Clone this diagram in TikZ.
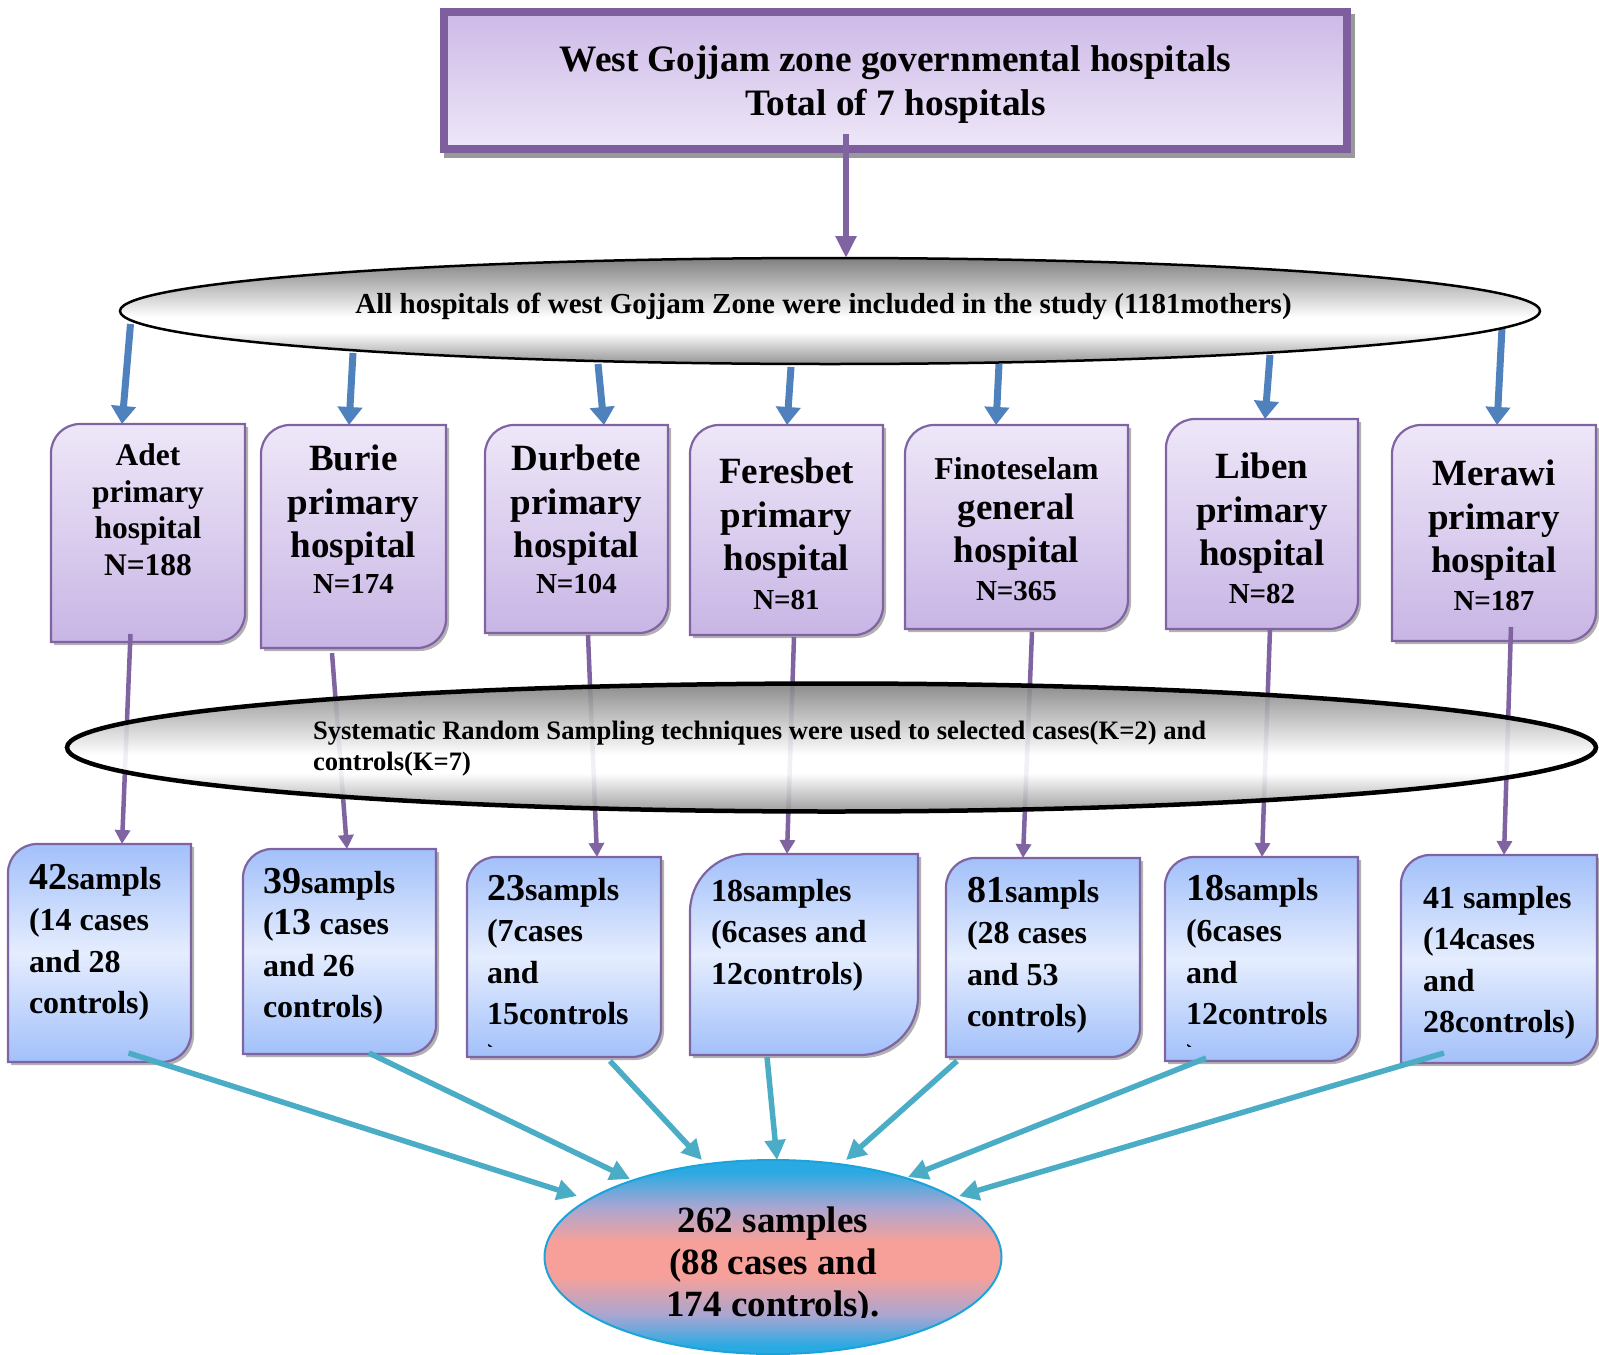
\documentclass[tikz,border=0pt]{standalone}
\usepackage{fontspec}
\setmainfont{Liberation Serif}
\usetikzlibrary{arrows.meta,shapes.geometric}
\pgfdeclarelayer{background}
\pgfsetlayers{background,main}
\definecolor{pborder}{HTML}{8064A2}
\definecolor{tborder}{HTML}{7E5F9E}
\definecolor{tTop}{HTML}{CDB9E7}
\definecolor{tBot}{HTML}{EEE7F8}
\definecolor{hTop}{HTML}{EEE7F8}
\definecolor{hBot}{HTML}{C8B5E5}
\definecolor{sEdge}{HTML}{A2C0FA}
\definecolor{sMid}{HTML}{E5EDFE}
\definecolor{arrBlue}{HTML}{4F81BD}
\definecolor{arrTeal}{HTML}{4BACC6}
\definecolor{fBlue}{HTML}{29AAE2}
\definecolor{fLav}{HTML}{A8A6D2}
\definecolor{fPink}{HTML}{F7A09A}
\definecolor{fEdge}{HTML}{1BA3DA}
\pgfdeclareverticalshading{ellsh}{100bp}{color(0bp)=(black!42); color(25bp)=(black!42); color(40bp)=(white); color(47bp)=(white); color(75bp)=(black!50); color(100bp)=(black!50)}
\pgfdeclareverticalshading{finalsh}{100bp}{color(0bp)=(fBlue); color(27bp)=(fBlue); color(35bp)=(fLav); color(45bp)=(fPink); color(54bp)=(fPink); color(63bp)=(fLav); color(72bp)=(fBlue); color(100bp)=(fBlue)}
\newcommand\cornerbox[6]{%
  \path[#6] ({#1},{#2+#5}) .. controls ({#1},{#2+0.448*#5}) and ({#1+0.448*#5},{#2}) .. ({#1+#5},{#2}) -- ({#3},{#2}) -- ({#3},{#4-#5}) .. controls ({#3},{#4-0.448*#5}) and ({#3-0.448*#5},{#4}) .. ({#3-#5},{#4}) -- ({#1},{#4}) -- cycle;}
\newcommand\shapebox[7]{%
  \cornerbox{#2}{#3}{#4}{#5}{#6}{hshadow}%
  \cornerbox{#2}{#3}{#4}{#5}{#6}{#7}%
  \node[holder, minimum width={#4-#2}, minimum height={#5-#3}] (#1) at ({(#2+#4)/2},{(#3+#5)/2}) {};}
\newcommand\bignum[1]{{\fontsize{38}{41.5}\selectfont #1}}
\newcommand\nline[1]{{\fontsize{29}{29}\selectfont #1}}
\begin{document}
\begin{tikzpicture}[x=1pt,y=-1pt,
  every node/.style={inner sep=0pt, outer sep=0pt},
  holder/.style={rectangle, inner sep=0pt},
  hshadow/.style={fill=black!30, shift={(3,3)}},
  hfill/.style={draw=pborder, line width=2.2pt, top color=hTop, bottom color=hBot},
  sfill/.style={draw=pborder, line width=2.2pt, top color=sEdge, bottom color=sEdge, middle color=sMid},
  htext/.style={align=center, anchor=north, font=\fontsize{37}{43.5}\selectfont\bfseries},
  stext/.style={align=left, anchor=north west, font=\fontsize{32}{41.5}\selectfont\bfseries},
  bluearr/.style={draw=arrBlue, line width=7pt, -{Triangle[length=18pt,width=24pt]}},
  purarr/.style={draw=pborder, line width=4.5pt, -{Triangle[length=14pt,width=15pt]}},
  tealarr/.style={draw=arrTeal, line width=5.5pt, -{Triangle[length=20pt,width=20pt]}},
  titlearr/.style={draw=pborder, line width=6pt, -{Triangle[length=22pt,width=20pt]}},
  ellbox/.style={ellipse, draw=black, shade, shading=ellsh},
]
\useasboundingbox (0,0) rectangle (1599,1355);

% title
\fill[black!40] (444,14) rectangle (1355,158);
\node[draw=tborder, line width=8pt, top color=tTop, bottom color=tBot, minimum width=903pt, minimum height=137pt] (tb) at (895.5,80.5) {};
\node[align=center, anchor=north, font=\fontsize{37.3}{44}\selectfont\bfseries] (tbt) at (895.5,46) {West Gojjam zone governmental hospitals\\Total of 7 hospitals};

% first ellipse
\node[ellbox, line width=2.5pt, minimum width=1420pt, minimum height=106pt] (e1) at (830,311) {};
\node[anchor=base, font=\fontsize{29}{33}\selectfont\bfseries] (e1t) at (823.5,313.5) {All hospitals of west Gojjam Zone were included in the study (1181mothers)};
\draw[titlearr] ([shift={(-49.5,-15)}]tb.south) -- ([shift={(16,0)}]e1.north);

% hospital boxes
\shapebox{h1}{51}{424}{245}{642}{29}{hfill}
\shapebox{h2}{261}{425}{446}{648}{29}{hfill}
\shapebox{h3}{485}{425}{668}{633}{29}{hfill}
\shapebox{h4}{690}{425}{883}{635}{29}{hfill}
\shapebox{h5}{905}{425}{1128}{629}{29}{hfill}
\shapebox{h6}{1166}{419}{1358}{629}{29}{hfill}
\shapebox{h7}{1392}{425}{1596}{641}{29}{hfill}

\node[htext, font=\fontsize{31.5}{36.5}\selectfont\bfseries] (h1t) at (148,444) {Adet\\primary\\hospital\\N=188};
\node[htext] (h2t) at (353.5,445) {Burie\\primary\\hospital\\[-7.5pt]\nline{N=174}};
\node[htext] (h3t) at (576.5,445) {Durbete\\primary\\hospital\\[-7.5pt]\nline{N=104}};
\node[htext] (h4t) at (786.5,458) {Feresbet\\primary\\hospital\\[-4.5pt]\nline{N=81}};
\node[htext] (h5t) at (1016.5,457) {{\fontsize{31.8}{31.8}\selectfont Finoteselam}\\[-3.5pt]general\\hospital\\[-5.5pt]\nline{N=365}};
\node[htext] (h6t) at (1262,453) {Liben\\primary\\hospital\\[-5.5pt]\nline{N=82}};
\node[htext] (h7t) at (1494,460) {Merawi\\primary\\hospital\\[-5.5pt]\nline{N=187}};

\begin{pgfonlayer}{background}
\draw[bluearr] ([shift={(-699.5,13)}]e1.center) -- ([shift={(71,0)}]h1.north west);
\draw[bluearr] ([shift={(-477,42)}]e1.center) -- ([shift={(88,0)}]h2.north west);
\draw[bluearr] ([shift={(-232,53)}]e1.center) -- ([shift={(119,0)}]h3.north west);
\draw[bluearr] ([shift={(-39,56)}]e1.center) -- ([shift={(97,0)}]h4.north west);
\draw[bluearr] ([shift={(169,53)}]e1.center) -- ([shift={(91,0)}]h5.north west);
\draw[bluearr] ([shift={(440,44)}]e1.center) -- ([shift={(99,0)}]h6.north west);
\draw[bluearr] ([shift={(672,17)}]e1.center) -- ([shift={(105,0)}]h7.north west);
\end{pgfonlayer}

% sample boxes
\shapebox{s1}{8}{844}{191}{1062}{29}{sfill}
\shapebox{s2}{243}{849}{436}{1054}{29}{sfill}
\shapebox{s3}{467}{857}{661}{1057}{29}{sfill}
\shapebox{s4}{690}{854}{918}{1055}{58}{sfill}
\shapebox{s5}{946}{858}{1140}{1057}{29}{sfill}
\shapebox{s6}{1165}{857}{1358}{1061}{29}{sfill}
\shapebox{s7}{1401}{855}{1597}{1063}{29}{sfill}

\node[stext] (s1t) at (29,864) {\bignum{42}sampls\\(14 cases\\and 28\\controls)};
\node[stext] (s2t) at (263,868) {\bignum{39}sampls\\(\bignum{13} cases\\and 26\\controls)};
\begin{scope}
\clip (467,857) rectangle (661,1046);
\node[stext] (s3t) at (487,875) {\bignum{23}sampls\\(7cases\\and\\15controls\\)};
\end{scope}
\node[stext] (s4t) at (711,879) {18samples\\(6cases and\\12controls)};
\node[stext] (s5t) at (967,877) {\bignum{81}sampls\\(28 cases\\and 53\\controls)};
\begin{scope}
\clip (1165,857) rectangle (1358,1046);
\node[stext] (s6t) at (1186,875) {\bignum{18}sampls\\(6cases\\and\\12controls\\)};
\end{scope}
\node[stext] (s7t) at (1423,886) {41 samples\\(14cases\\and\\28controls)};

% purple connectors
\draw[purarr] ([shift={(79.5,-8)}]h1.south west) -- ([shift={(114,0)}]s1.north west);
\draw[purarr] ([shift={(71,5)}]h2.south west) -- ([shift={(104,0)}]s2.north west);
\draw[purarr] ([shift={(103,2)}]h3.south west) -- ([shift={(130,0)}]s3.north west);
\draw[purarr] ([shift={(104,2)}]h4.south west) -- ([shift={(97,0)}]s4.north west);
\draw[purarr] ([shift={(127,3)}]h5.south west) -- ([shift={(77,0)}]s5.north west);
\draw[purarr] ([shift={(104,0)}]h6.south west) -- ([shift={(97,0)}]s6.north west);
\draw[purarr] ([shift={(119,-14)}]h7.south west) -- ([shift={(103,0)}]s7.north west);

% second ellipse
\node[ellbox, line width=4.5pt, fill opacity=0.9, minimum width=1529pt, minimum height=128pt] (e2) at (831.5,747.5) {};
\node[anchor=north west, align=left, font=\fontsize{26.6}{31}\selectfont\bfseries] (e2t) at (313,721) {Systematic Random Sampling techniques were used to selected cases(K=2) and\\controls(K=7)};

% final ellipse
\node[ellipse, draw=fEdge, line width=2pt, shade, shading=finalsh, minimum width=457pt, minimum height=194pt] (fe) at (773,1257) {};
\begin{scope}
\clip (0,0) rectangle (1599,1317);
\node[align=center, anchor=north, font=\fontsize{37}{42}\selectfont\bfseries] (fet) at (773,1207) {262 samples\\(88 cases and\\174 controls).};
\end{scope}

% teal connectors
\draw[tealarr] ([shift={(120.5,-9)}]s1.south west) -- ([shift={(-196,-61)}]fe.center);
\draw[tealarr] ([shift={(126,-1)}]s2.south west) -- ([shift={(-143,-78)}]fe.center);
\draw[tealarr] ([shift={(143,4)}]s3.south west) -- ([shift={(-71,-97)}]fe.center);
\draw[tealarr] ([shift={(77,2)}]s4.south west) -- ([shift={(4,-97)}]fe.center);
\draw[tealarr] ([shift={(11,4)}]s5.south west) -- ([shift={(73,-97)}]fe.center);
\draw[tealarr] ([shift={(41,-3)}]s6.south west) -- ([shift={(135,-80)}]fe.center);
\draw[tealarr] ([shift={(43,-10)}]s7.south west) -- ([shift={(186,-61)}]fe.center);
\end{tikzpicture}
\end{document}
